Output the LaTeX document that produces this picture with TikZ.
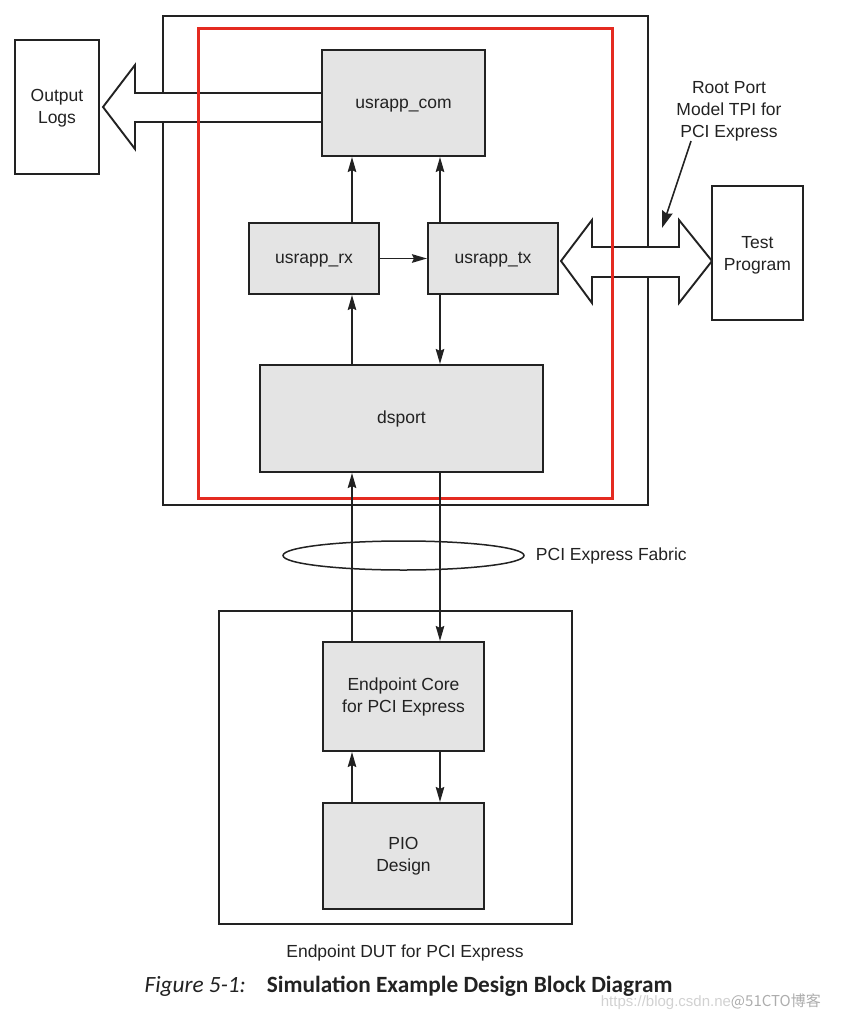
\documentclass[tikz,border=0pt]{standalone}
\usepackage{fontspec}
\setmainfont{Liberation Sans}
\newfontfamily\capfont{Carlito}
\newfontfamily\cjkfont{Noto Sans CJK SC}
\usetikzlibrary{arrows.meta,positioning,shapes.geometric}

\definecolor{blockgray}{HTML}{E4E4E4}
\definecolor{linegray}{HTML}{222222}
\definecolor{framered}{HTML}{E42A20}

\tikzset{
  block/.style={draw=linegray, line width=2pt, fill=blockgray, align=center, inner sep=0pt},
  oneline/.style={text height=14.5pt, text depth=3.7pt},
  plainbox/.style={draw=linegray, line width=2pt, fill=white, align=center, inner sep=0pt},
  link/.style={draw=linegray, line width=1.9pt, -{Stealth[length=15pt,width=8.5pt,inset=2pt]}},
  fatarrow/.style={draw=linegray, line width=1.9pt, fill=white, line join=miter},
}

\begin{document}
\begin{tikzpicture}[x=1pt, y=-1pt, font=\fontsize{17.5}{22}\selectfont, text=linegray]
\useasboundingbox (0,0) rectangle (844,1025);

% Root port model frame
\node[draw=linegray, line width=1.8pt, minimum width=485pt, minimum height=489pt, inner sep=0pt] (rootport) at (405.5,260.5) {};

% Wide arrows to the outside
\draw[fatarrow] (322,93) -- (135,93) -- (135,65) -- (103,107) -- (135,149) -- (135,122) -- (322,122) -- cycle;
\draw[fatarrow] (561,261) -- (592,220) -- (592,247) -- (679,247) -- (679,220) -- (712,261)
  -- (679,303) -- (679,277) -- (592,277) -- (592,303) -- cycle;

% Red wrapper
\draw[framered, line width=3pt] (198,29) rectangle (612,498);

% Root port blocks
\node[block, oneline, minimum width=163pt, minimum height=106pt] (com) at (403.5,103) {usrapp\_com};
\node[block, oneline, minimum width=130pt, minimum height=71pt] (rx) at (314,258.5) {usrapp\_rx};
\node[block, oneline, minimum width=130pt, minimum height=71pt] (tx) at (493,258.5) {usrapp\_tx};
\node[block, oneline, minimum width=283pt, minimum height=107pt] (dsport) at (401.5,418.5) {dsport};

% Outside boxes
\node[plainbox, minimum width=84pt, minimum height=134pt] (logs) at (57,107) {\rule{0pt}{15.5pt}Output\\Logs};
\node[plainbox, minimum width=91pt, minimum height=134pt] (test) at (757.5,253) {\rule{0pt}{16pt}Test\\Program};
\node[align=center, inner sep=0pt] (rplabel) at (729,111) {Root Port\\Model TPI for\\PCI Express};
\coordinate (rptip) at (662,228);

% Fabric
\node[draw=linegray, line width=1.5pt, ellipse, minimum width=241pt, minimum height=29pt] (fabric) at (403.5,555.5) {};
\node[inner sep=0pt, right=11pt of fabric] (fabriclabel) {PCI Express Fabric};

% Endpoint DUT
\node[draw=linegray, line width=1.8pt, minimum width=353pt, minimum height=313pt, inner sep=0pt] (dut) at (395.5,767.5) {};
\node[block, minimum width=161pt, minimum height=109pt] (core) at (403.5,696.5) {Endpoint Core\\for PCI Express};
\node[block, minimum width=161pt, minimum height=106pt] (pio) at (403.5,856) {PIO\\Design};
\node[oneline] (dutlabel) at (405,952) {Endpoint DUT for PCI Express};

% Caption
\node (caption) at (408.5,986) {\capfont\fontsize{23.3}{27}\selectfont\textit{Figure 5-1:}\hspace{21pt}\textbf{Simulation Example Design Block Diagram}};
\node[text=black!18, anchor=east, inner sep=0pt] (mark) at (821,1002) {\fontsize{15}{17}\selectfont https://blog.csdn.ne{\color{black!32}\cjkfont @51CTO博客}};

% Data paths
\coordinate (upx) at (352,0);
\coordinate (downx) at (440,0);
\draw[link] (rx.north -| upx) -- (com.south -| upx);
\draw[link] (tx.north -| downx) -- (com.south -| downx);
\draw[link] (rx) -- (tx);
\draw[link] (dsport.north -| upx) -- (rx.south -| upx);
\draw[link] (tx.south -| downx) -- (dsport.north -| downx);
\draw[link] (core.north -| upx) -- (dsport.south -| upx);
\draw[link] (dsport.south -| downx) -- (core.north -| downx);
\draw[link] (pio.north -| upx) -- (core.south -| upx);
\draw[link] (core.south -| downx) -- (pio.north -| downx);
\draw[link, line width=1.6pt, -{Stealth[length=17pt,width=11pt,inset=2pt]}] ([xshift=-38pt]rplabel.south) -- (rptip);

\end{tikzpicture}
\end{document}
